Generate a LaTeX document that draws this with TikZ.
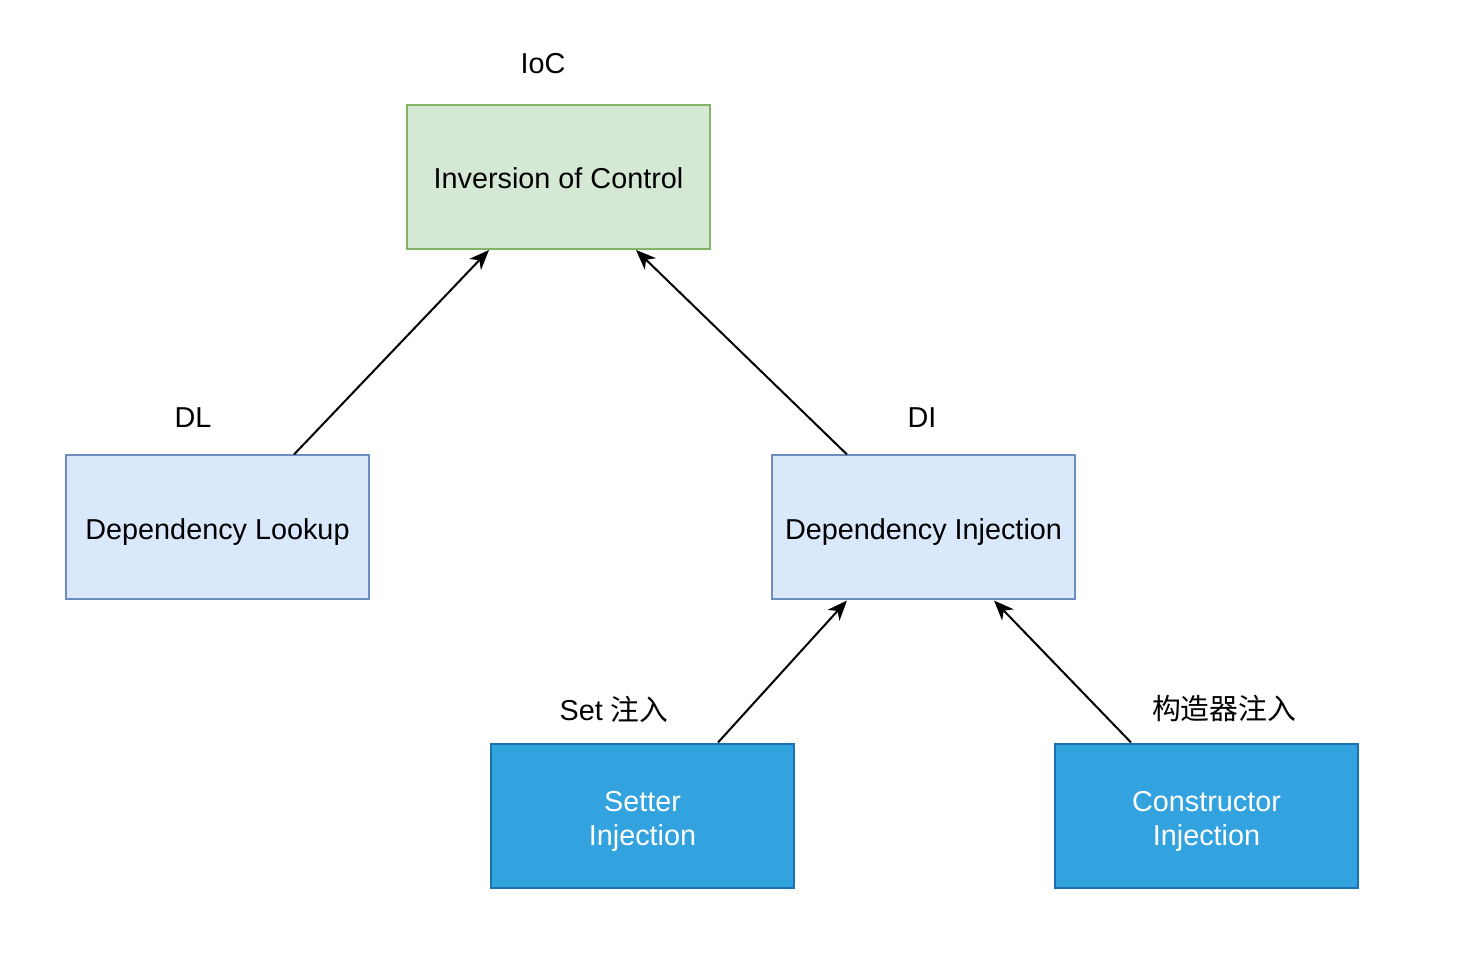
\documentclass[tikz,border=0pt]{standalone}
\usepackage{fontspec}
\setmainfont{Liberation Sans}
\newfontfamily\cjk{Noto Sans CJK SC}
\usepackage{xcolor}
\usepackage{tikz}
\usetikzlibrary{arrows.meta}
\definecolor{gfill}{HTML}{D5E8D4}
\definecolor{gline}{HTML}{82B366}
\definecolor{bfill}{HTML}{DAE8FC}
\definecolor{bline}{HTML}{6C8EBF}
\definecolor{dfill}{HTML}{33A3DF}
\definecolor{dline}{HTML}{1B72AE}
\newcommand{\dstrut}{\rule{0pt}{15.5pt}}
\tikzset{
  box/.style={draw, line width=1pt, minimum width=151.5pt, minimum height=72pt,
    align=center, font=\fontsize{14.4}{17}\selectfont},
  gbox/.style={box, draw=gline, fill=gfill, text height=13.5pt, text depth=1.5pt},
  lbox/.style={box, draw=bline, fill=bfill, text height=13.5pt, text depth=1.5pt},
  dbox/.style={box, draw=dline, fill=dfill, text=white},
  lbl/.style={font=\fontsize{14.4}{17}\selectfont},
  arr/.style={draw=black, line width=1pt, -{Stealth[length=10pt,width=8pt,inset=3pt]}}
}
\begin{document}
\begin{tikzpicture}[x=0.5pt, y=-0.5pt]
  \useasboundingbox (0,0) rectangle (1468,978);

  \node[gbox] (ioc) at (558.5,177) {Inversion of Control};
  \node[lbox] (dl) at (217.5,527.5) {Dependency Lookup};
  \node[lbox] (di) at (923.5,527.5) {Dependency Injection};
  \node[dbox] (set) at (642.5,815.5) {\dstrut Setter\\Injection};
  \node[dbox] (con) at (1206.5,815.5) {\dstrut Constructor\\Injection};

  \node[lbl] (iocl) at (543,64) {IoC};
  \node[lbl] (dll) at (193,418) {DL};
  \node[lbl] (dil) at (922,418) {DI};
  \node[lbl] (setl) at (614,709) {Set {\cjk 注入}};
  \node[lbl] (conl) at (1224,709) {\cjk 构造器注入};

  \draw[arr] ([xshift=38.25pt]dl.north) -- ([xshift=-34.75pt]ioc.south);
  \draw[arr] ([xshift=-38.25pt]di.north) -- ([xshift=38.75pt]ioc.south);
  \draw[arr] ([xshift=37.75pt]set.north) -- ([xshift=-38.25pt]di.south);
  \draw[arr] ([xshift=-37.75pt]con.north) -- ([xshift=35.25pt]di.south);
\end{tikzpicture}
\end{document}
